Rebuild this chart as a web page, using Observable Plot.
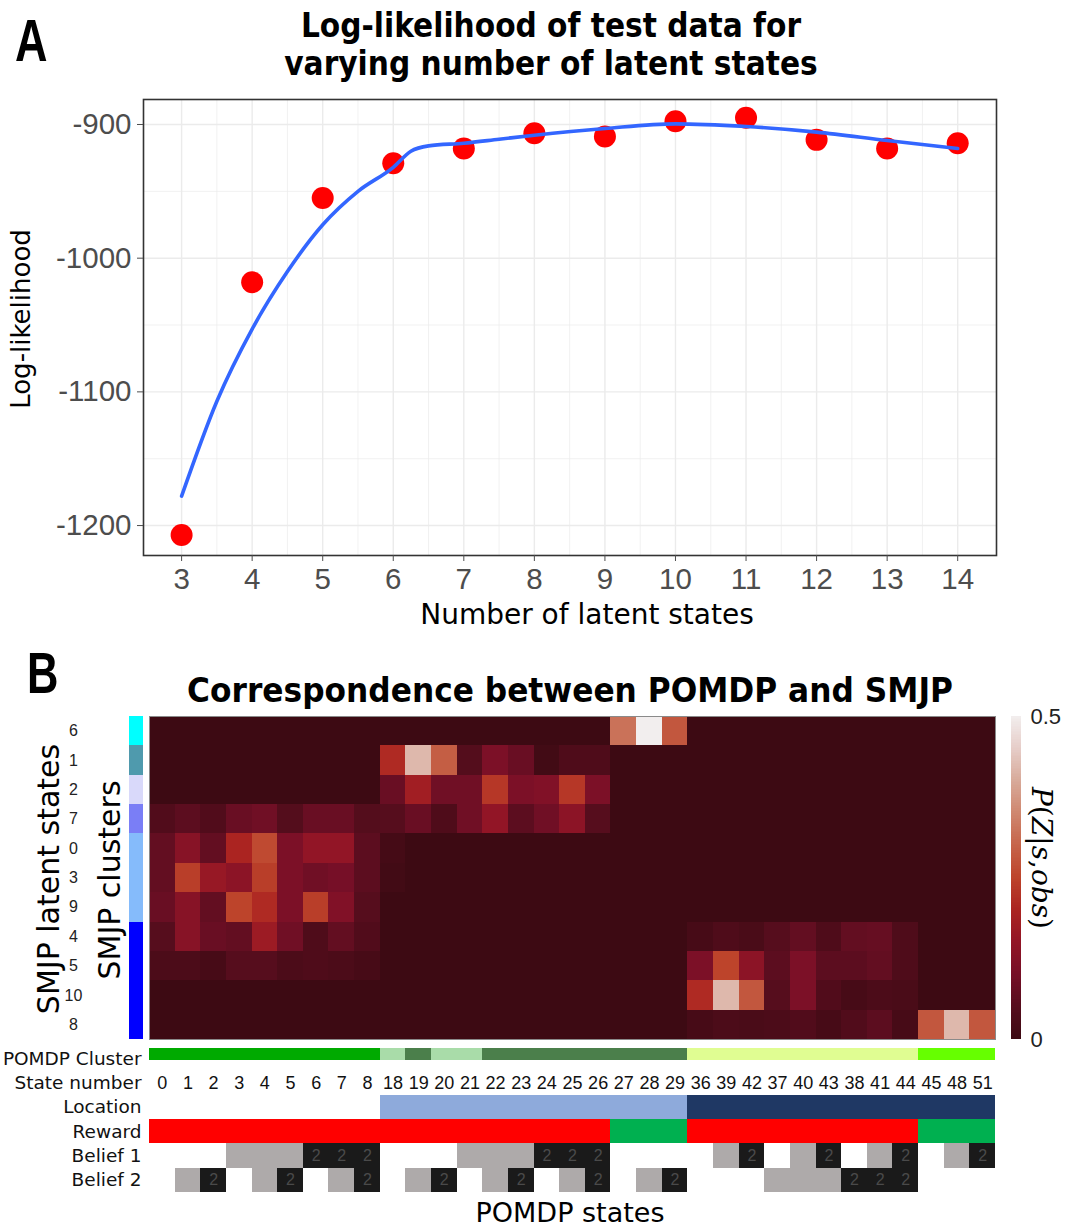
<!DOCTYPE html>
<html>
<head>
<meta charset="utf-8">
<script src="https://cdn.jsdelivr.net/npm/d3@7"></script>
<script src="https://cdn.jsdelivr.net/npm/@observablehq/plot@0.6"></script>
<style>
html,body{margin:0;padding:0;background:#fff;}
#page{position:relative;width:1066px;height:1231px;overflow:hidden;background:#fff;}
.layer{position:absolute;}
.layer svg{display:block;max-width:none !important;}
#overlay{position:absolute;left:0;top:0;pointer-events:none;}
#overlay text{fill:#000;}
</style>
</head>
<body>
<div id="page">
  <div id="plotA" class="layer" style="left:0;top:0;width:1066px;height:640px;"></div>
  <div id="heat" class="layer" style="left:0;top:700px;width:1066px;height:340px;"></div>
  <div id="strip" class="layer" style="left:129px;top:700px;width:16px;height:340px;"></div>
  <div id="cbar" class="layer" style="left:1011px;top:700px;width:55px;height:340px;"></div>
  <div id="annot" class="layer" style="left:0;top:1040px;width:1066px;height:152px;"></div>
  <svg id="overlay" width="1066" height="1231">
    <text transform="translate(15,61) scale(0.75,1)" font-family="'Liberation Sans',Arial,sans-serif" font-weight="bold" font-size="60">A</text>
    <text transform="translate(551,37) scale(0.9,1)" text-anchor="middle" font-family="'DejaVu Sans',Verdana,sans-serif" font-weight="bold" font-size="33">Log-likelihood of test data for</text>
    <text transform="translate(551,75) scale(0.9,1)" text-anchor="middle" font-family="'DejaVu Sans',Verdana,sans-serif" font-weight="bold" font-size="33">varying number of latent states</text>
    <text transform="translate(30,319) rotate(-90)" text-anchor="middle" font-family="'DejaVu Sans',Verdana,sans-serif" font-size="26">Log-likelihood</text>
    <text x="587" y="624" text-anchor="middle" font-family="'DejaVu Sans',Verdana,sans-serif" font-size="28">Number of latent states</text>
    <text transform="translate(27,693) scale(0.75,1)" font-family="'Liberation Sans',Arial,sans-serif" font-weight="bold" font-size="58">B</text>
    <text transform="translate(570,702) scale(0.92,1)" text-anchor="middle" font-family="'DejaVu Sans',Verdana,sans-serif" font-weight="bold" font-size="34">Correspondence between POMDP and SMJP</text>
    <text transform="translate(59,879) rotate(-90)" text-anchor="middle" font-family="'DejaVu Sans',Verdana,sans-serif" font-size="30">SMJP latent states</text>
    <text transform="translate(120,880) rotate(-90)" text-anchor="middle" font-family="'DejaVu Sans',Verdana,sans-serif" font-size="30">SMJP clusters</text>
    <text x="570" y="1222" text-anchor="middle" font-family="'DejaVu Sans',Verdana,sans-serif" font-size="27">POMDP states</text>
    <text transform="translate(1032,858) rotate(90)" text-anchor="middle" font-family="'DejaVu Serif','Liberation Serif',serif" font-size="28"><tspan font-style="italic">P</tspan>(<tspan font-style="italic">Z</tspan>|<tspan font-style="italic">s</tspan>,<tspan font-style="italic">obs</tspan>)</text>
  </svg>
</div>
<script>
// ---------- Panel A data ----------
const latentStates = [3, 4, 5, 6, 7, 8, 9, 10, 11, 12, 13, 14];
const logLik = [-1207, -1018, -955, -929, -918, -906.5, -909, -897.5, -895, -911.5, -918, -914];
const smoothX = [3, 3.5, 4, 4.5, 5, 5.5, 6, 6.25, 6.5, 7, 7.5, 8, 9, 10, 11, 12, 13, 14];
const smoothY = [-1178, -1107, -1053, -1010, -975, -950, -932, -920, -916, -914, -911, -908, -903, -899.5, -901.5, -905.7, -912, -918];
const yTicks = [-900, -1000, -1100, -1200];
const yMinor = [-950, -1050, -1150];
const xMinor = [3.5, 4.5, 5.5, 6.5, 7.5, 8.5, 9.5, 10.5, 11.5, 12.5, 13.5];

// ---------- Panel B data ----------
const states = ["0","1","2","3","4","5","6","7","8","18","19","20","21","22","23","24","25","26","27","28","29","36","39","42","37","40","43","38","41","44","45","48","51"];
const smjpRows = ["6","1","2","7","0","3","9","4","5","10","8"];
const smjpClusterColor = ["#00ffff","#4f9aad","#d9d9fa","#7a7ef6","#85bbfb","#85bbfb","#85bbfb","#0000ff","#0000ff","#0000ff","#0000ff"];
// P(Z | s, obs): one array per SMJP latent state (row), one value per POMDP state (column)
const heat = [
  [0,0,0,0,0,0,0,0,0, 0,0,0,0,0,0,0,0,0, 0.32,0.5,0.28, 0,0,0,0,0,0,0,0,0, 0,0,0],
  [0,0,0,0,0,0,0,0,0, 0.21,0.42,0.29,0.045,0.11,0.08,0.01,0.035,0.035, 0,0,0, 0,0,0,0,0,0,0,0,0, 0,0,0],
  [0,0,0,0,0,0,0,0,0, 0.08,0.18,0.09,0.09,0.23,0.11,0.12,0.23,0.11, 0,0,0, 0,0,0,0,0,0,0,0,0, 0,0,0],
  [0.04,0.06,0.04,0.08,0.09,0.045,0.08,0.08,0.045, 0.05,0.08,0.035,0.09,0.15,0.06,0.09,0.14,0.05, 0,0,0, 0,0,0,0,0,0,0,0,0, 0,0,0],
  [0.07,0.13,0.07,0.2,0.26,0.11,0.15,0.15,0.06, 0.015,0,0,0,0,0,0,0,0, 0,0,0, 0,0,0,0,0,0,0,0,0, 0,0,0],
  [0.07,0.24,0.16,0.14,0.24,0.11,0.09,0.1,0.06, 0.01,0,0,0,0,0,0,0,0, 0,0,0, 0,0,0,0,0,0,0,0,0, 0,0,0],
  [0.08,0.13,0.07,0.25,0.21,0.11,0.24,0.12,0.05, 0,0,0,0,0,0,0,0,0, 0,0,0, 0,0,0,0,0,0,0,0,0, 0,0,0],
  [0.05,0.13,0.08,0.07,0.17,0.09,0.035,0.07,0.04, 0,0,0,0,0,0,0,0,0, 0,0,0, 0.02,0.035,0.025,0.05,0.07,0.035,0.07,0.075,0.035, 0,0,0],
  [0.03,0.03,0.02,0.05,0.05,0.03,0.035,0.03,0.02, 0,0,0,0,0,0,0,0,0, 0,0,0, 0.11,0.25,0.14,0.06,0.11,0.06,0.06,0.07,0.035, 0,0,0],
  [0,0,0,0,0,0,0,0,0, 0,0,0,0,0,0,0,0,0, 0,0,0, 0.21,0.42,0.28,0.05,0.11,0.04,0.02,0.03,0.025, 0,0,0],
  [0,0,0,0,0,0,0,0,0, 0,0,0,0,0,0,0,0,0, 0,0,0, 0.02,0.03,0.025,0.03,0.04,0.02,0.04,0.06,0.02, 0.28,0.42,0.28]
];
const colorStops = [0, 0.05, 0.1, 0.15, 0.2, 0.25, 0.3, 0.35, 0.4, 0.45, 0.5];
const colorRange = ["#3d0a13","#560d1d","#760f27","#921526","#ab2421","#bd442b","#c6644a","#cf876f","#d8aa9a","#e6cdc8","#f2eeee"];
const cbarTicks = [0, 0.5];

const annotRows = ["POMDP Cluster","State number","Location","Reward","Belief 1","Belief 2"];
const pomdpCluster = [1,1,1,1,1,1,1,1,1, 2,3,2,2,3,3,3,3,3,3,3,3, 4,4,4,4,4,4,4,4,4, 5,5,5];
const pomdpClusterColors = {1: "#00aa00", 2: "#a9dca9", 3: "#4b7f4b", 4: "#e0fd92", 5: "#66ff00"};
const pomdpLocation = [0,0,0,0,0,0,0,0,0, 1,1,1,1,1,1,1,1,1,1,1,1, 2,2,2,2,2,2,2,2,2,2,2,2];
const locationColors = {1: "#8eaadb", 2: "#1f3864"};
const reward = [0,0,0,0,0,0,0,0,0, 0,0,0,0,0,0,0,0,0, 1,1,1, 0,0,0,0,0,0,0,0,0, 1,1,1];
const rewardColors = {0: "#ff0000", 1: "#00b050"};
const belief1 = [0,0,0,1,1,1,2,2,2, 0,0,0,1,1,1,2,2,2, 0,0,0, 0,1,2,0,1,2,0,1,2, 0,1,2];
const belief2 = [0,1,2,0,1,2,0,1,2, 0,1,2,0,1,2,0,1,2, 0,1,2, 0,0,0,1,1,1,2,2,2, 0,0,0];
const beliefColors = {1: "#aeaaaa", 2: "#1a1a1a"};

const narrow = "'Liberation Sans Narrow','Arial Narrow','Liberation Sans',Arial,sans-serif";
const sans = "'DejaVu Sans',Verdana,sans-serif";
const crisp = {shapeRendering: "crispEdges"};

// ---------- Panel A ----------
const pts = latentStates.map((x, i) => ({x, y: logLik[i]}));
const smooth = smoothX.map((x, i) => ({x, y: smoothY[i]}));
const plotA = Plot.plot({
  width: 1066, height: 640,
  marginLeft: 143, marginRight: 70, marginTop: 99, marginBottom: 85,
  x: {domain: [2.46, 14.55]},
  y: {domain: [-1222.4, -881.3]},
  style: {fontFamily: "'Liberation Sans',Arial,sans-serif", background: "transparent", maxWidth: "none"},
  marks: [
    Plot.gridX({ticks: xMinor, stroke: "#ebebeb", strokeOpacity: 1, strokeWidth: 0.7}),
    Plot.gridY({ticks: yMinor, stroke: "#ebebeb", strokeOpacity: 1, strokeWidth: 0.7}),
    Plot.gridX({ticks: latentStates, stroke: "#ebebeb", strokeOpacity: 1, strokeWidth: 1.4}),
    Plot.gridY({ticks: yTicks, stroke: "#ebebeb", strokeOpacity: 1, strokeWidth: 1.4}),
    Plot.dot(pts, {x: "x", y: "y", r: 11, fill: "#ff0000", stroke: null}),
    Plot.line(smooth, {x: "x", y: "y", stroke: "#3366ff", strokeWidth: 3.6, curve: "monotone-x"}),
    Plot.frame({stroke: "#333333", strokeWidth: 1.6}),
    Plot.axisX({ticks: latentStates, tickSize: 6, tickPadding: 7, fontSize: 29.5, color: "#4d4d4d", label: null, tickFormat: d => String(d)}),
    Plot.axisY({ticks: yTicks, tickSize: 6, tickPadding: 6, fontSize: 29.5, color: "#4d4d4d", label: null, tickFormat: d => String(d)})
  ]
});
document.getElementById("plotA").append(plotA);

// ---------- Panel B heatmap ----------
const heatData = smjpRows.flatMap((r, i) => states.map((s, j) => ({row: r, state: s, p: heat[i][j]})));
const colorScale = {type: "linear", domain: colorStops, range: colorRange, clamp: true};
const heatPlot = Plot.plot({
  width: 1066, height: 340,
  marginLeft: 149, marginRight: 71, marginTop: 16, marginBottom: 1,
  x: {domain: states, padding: 0, round: false, axis: null},
  y: {domain: smjpRows, padding: 0, round: false, axis: null},
  color: colorScale,
  style: {fontFamily: narrow, background: "transparent", maxWidth: "none"},
  marks: [
    Plot.cell(heatData, {x: "state", y: "row", fill: "p", ...crisp}),
    Plot.frame({stroke: "#8a8a8a", strokeWidth: 1}),
    Plot.text(smjpRows, {y: d => d, text: d => d, frameAnchor: "left", dx: -76, textAnchor: "middle", fontSize: 16, fill: "#222"})
  ]
});
document.getElementById("heat").append(heatPlot);

// SMJP cluster strip
const stripPlot = Plot.plot({
  width: 16, height: 340,
  marginLeft: 0, marginRight: 2, marginTop: 16, marginBottom: 1,
  x: {axis: null},
  y: {domain: smjpRows, padding: 0, round: false, axis: null},
  color: {type: "identity"},
  style: {background: "transparent", maxWidth: "none"},
  marks: [
    Plot.cell(smjpRows, {y: d => d, fill: (d, i) => smjpClusterColor[i], ...crisp})
  ]
});
document.getElementById("strip").append(stripPlot);

// Colorbar
const cbarSteps = d3.range(0, 0.5, 0.0025);
const cbarPlot = Plot.plot({
  width: 55, height: 340,
  marginLeft: 0, marginRight: 45, marginTop: 16, marginBottom: 1,
  x: {axis: null},
  y: {domain: [0, 0.5], axis: null},
  color: colorScale,
  style: {fontFamily: "'Liberation Sans',Arial,sans-serif", background: "transparent", maxWidth: "none", overflow: "visible"},
  marks: [
    Plot.rect(cbarSteps, {y1: d => d, y2: d => d + 0.0026, fill: d => d + 0.00125, ...crisp}),
    Plot.axisY({anchor: "right", ticks: cbarTicks, tickSize: 0, tickPadding: 9, fontSize: 22, color: "#222", label: null, tickFormat: d => String(d)})
  ]
});
document.getElementById("cbar").append(cbarPlot);

// ---------- Annotation rows ----------
const idx = states.map((s, i) => i);
const annotPlot = Plot.plot({
  width: 1066, height: 152,
  marginLeft: 149, marginRight: 71, marginTop: 6, marginBottom: 0,
  x: {domain: states, padding: 0, round: false, axis: null},
  y: {domain: annotRows, padding: 0, round: false, axis: null},
  color: {type: "identity"},
  style: {fontFamily: sans, background: "transparent", maxWidth: "none", overflow: "visible"},
  marks: [
    Plot.cell(idx, {x: i => states[i], y: () => "POMDP Cluster", fill: i => pomdpClusterColors[pomdpCluster[i]], insetTop: 2, insetBottom: 10, ...crisp}),
    Plot.text(idx, {x: i => states[i], y: () => "State number", text: i => states[i], fontSize: 18, fontFamily: narrow, fill: "#111"}),
    Plot.cell(idx.filter(i => pomdpLocation[i] > 0), {x: i => states[i], y: () => "Location", fill: i => locationColors[pomdpLocation[i]], ...crisp}),
    Plot.cell(idx, {x: i => states[i], y: () => "Reward", fill: i => rewardColors[reward[i]], ...crisp}),
    Plot.cell(idx.filter(i => belief1[i] > 0), {x: i => states[i], y: () => "Belief 1", fill: i => beliefColors[belief1[i]], ...crisp}),
    Plot.cell(idx.filter(i => belief2[i] > 0), {x: i => states[i], y: () => "Belief 2", fill: i => beliefColors[belief2[i]], ...crisp}),
    Plot.text(idx.filter(i => belief1[i] === 2), {x: i => states[i], y: () => "Belief 1", text: i => String(belief1[i]), fontSize: 16, fontFamily: narrow, fill: "#4a4a4a"}),
    Plot.text(idx.filter(i => belief2[i] === 2), {x: i => states[i], y: () => "Belief 2", text: i => String(belief2[i]), fontSize: 16, fontFamily: narrow, fill: "#4a4a4a"}),
    Plot.axisY({tickSize: 0, tickPadding: 8, fontSize: 18.5, color: "#111", label: null})
  ]
});
document.getElementById("annot").append(annotPlot);
</script>
</body>
</html>
